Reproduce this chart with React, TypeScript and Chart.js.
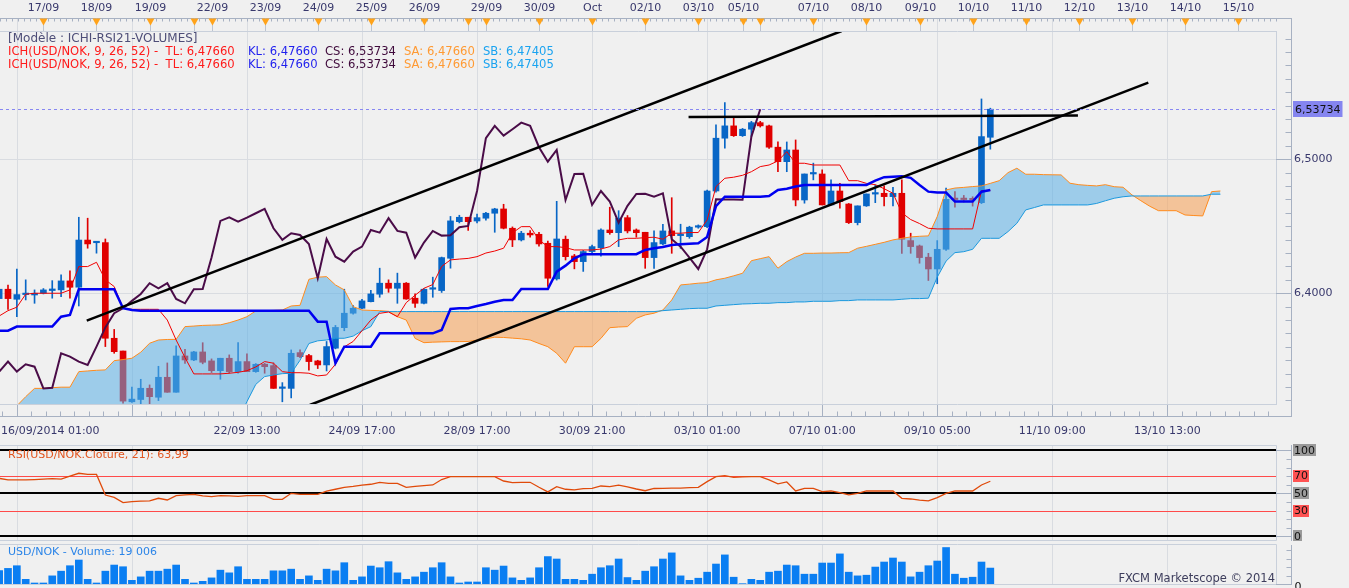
import React, { useEffect, useRef } from "react";
import { Chart, registerables } from "chart.js";

Chart.register(...registerables);

// ---------------- data (index of first candle = -1) ----------------
const FIRST_INDEX = -1;

const OPEN = [
  6.396, 6.403, 6.3955, 6.399, 6.3987, 6.4, 6.402, 6.4025, 6.4092, 6.4045,
  6.4397, 6.4377, 6.4378, 6.3664, 6.3569, 6.319, 6.3207, 6.3291, 6.3224, 6.3373,
  6.3261, 6.3532, 6.3502, 6.3562, 6.3495, 6.3422, 6.3515, 6.3415, 6.349, 6.3415,
  6.347, 6.346, 6.329, 6.329, 6.3557, 6.3535, 6.3495, 6.3465, 6.359, 6.3743,
  6.3851, 6.3888, 6.3937, 6.3993, 6.4075, 6.4037, 6.4075, 6.3963, 6.3925, 6.403,
  6.402, 6.4261, 6.4534, 6.4567, 6.4539, 6.456, 6.4597, 6.4629, 6.4485, 6.4398,
  6.4448, 6.444, 6.4373, 6.4107, 6.4403, 6.4278, 6.4236, 6.4311, 6.434, 6.4472,
  6.4452, 6.4564, 6.4472, 6.4455, 6.4266, 6.4368, 6.4465, 6.443, 6.4422, 6.4493,
  6.4497, 6.4763, 6.5157, 6.5249, 6.5176, 6.5224, 6.5273, 6.5249, 6.509, 6.4982,
  6.5069, 6.4696, 6.489, 6.489, 6.4659, 6.4763, 6.4666, 6.4527, 6.4652, 6.474,
  6.4746, 6.4721, 6.4746, 6.4393, 6.4353, 6.4269, 6.4181, 6.4328, 6.4701, 6.4702,
  6.4699, 6.4676, 6.5164,
];
const HIGH = [
  6.406, 6.406, 6.418, 6.41, 6.4025, 6.4035, 6.4094, 6.4137, 6.4167, 6.4567,
  6.456, 6.438, 6.4405, 6.373, 6.3569, 6.33, 6.3358, 6.3316, 6.3455, 6.348,
  6.3607, 6.3582, 6.3567, 6.3631, 6.351, 6.3515, 6.354, 6.3631, 6.3547, 6.3475,
  6.3477, 6.348, 6.3333, 6.3577, 6.3577, 6.3545, 6.35, 6.364, 6.376, 6.403,
  6.3907, 6.3955, 6.4022, 6.4187, 6.41, 6.415, 6.408, 6.3995, 6.4035, 6.412,
  6.427, 6.4573, 6.4582, 6.4567, 6.459, 6.4604, 6.4634, 6.4664, 6.4495, 6.4462,
  6.4468, 6.4455, 6.439, 6.4686, 6.4427, 6.429, 6.432, 6.436, 6.448, 6.4642,
  6.4616, 6.458, 6.448, 6.4455, 6.4465, 6.4515, 6.4713, 6.4515, 6.45, 6.451,
  6.477, 6.5256, 6.5422, 6.5313, 6.523, 6.5283, 6.5283, 6.5255, 6.5129, 6.5129,
  6.5144, 6.489, 6.4971, 6.4921, 6.4846, 6.4821, 6.467, 6.4652, 6.4741, 6.4808,
  6.4801, 6.479, 6.4846, 6.4448, 6.436, 6.4298, 6.4393, 6.4784, 6.4759, 6.473,
  6.472, 6.545, 6.5381,
];
const LOW = [
  6.393, 6.388, 6.3825, 6.395, 6.3925, 6.3995, 6.3963, 6.3975, 6.3963, 6.3905,
  6.4336, 6.4299, 6.3602, 6.3552, 6.318, 6.3185, 6.3174, 6.3174, 6.3199, 6.3261,
  6.3261, 6.3477, 6.3497, 6.3473, 6.3408, 6.3358, 6.3403, 6.3403, 6.3415, 6.341,
  6.3403, 6.329, 6.319, 6.3219, 6.352, 6.3426, 6.3438, 6.342, 6.3585, 6.372,
  6.3843, 6.3885, 6.3935, 6.397, 6.4007, 6.3925, 6.3955, 6.3895, 6.392, 6.397,
  6.4006, 6.4187, 6.4525, 6.4469, 6.4525, 6.4545, 6.4455, 6.448, 6.4348, 6.439,
  6.4418, 6.4352, 6.405, 6.4098, 6.4248, 6.4182, 6.4163, 6.43, 6.4276, 6.444,
  6.4348, 6.445, 6.4418, 6.4186, 6.4186, 6.436, 6.4298, 6.4334, 6.441, 6.4485,
  6.449, 6.4755, 6.5082, 6.517, 6.517, 6.5171, 6.524, 6.508, 6.4907, 6.4907,
  6.4652, 6.4672, 6.4846, 6.4659, 6.4659, 6.4634, 6.452, 6.451, 6.4648, 6.4676,
  6.4652, 6.4652, 6.4298, 6.4298, 6.4224, 6.4095, 6.4071, 6.432, 6.4642, 6.468,
  6.465, 6.4669, 6.5075,
];
const CLOSE = [
  6.403, 6.396, 6.399, 6.3995, 6.4, 6.4025, 6.4032, 6.4092, 6.4045, 6.4397,
  6.4368, 6.4379, 6.3664, 6.3564, 6.3195, 6.321, 6.3291, 6.3228, 6.3373, 6.3261,
  6.3532, 6.3502, 6.3562, 6.3485, 6.3422, 6.3515, 6.3415, 6.349, 6.3415, 6.347,
  6.3452, 6.329, 6.3295, 6.3552, 6.3527, 6.349, 6.3465, 6.3602, 6.3745, 6.3851,
  6.3888, 6.3943, 6.3995, 6.4075, 6.4037, 6.4075, 6.3957, 6.3925, 6.403, 6.4032,
  6.4266, 6.454, 6.4567, 6.4534, 6.4564, 6.4597, 6.4629, 6.4485, 6.4398, 6.4448,
  6.4435, 6.4368, 6.4112, 6.4405, 6.4273, 6.4236, 6.4311, 6.4348, 6.4472, 6.4452,
  6.456, 6.4465, 6.4452, 6.4266, 6.4378, 6.4465, 6.443, 6.4432, 6.4493, 6.4502,
  6.4763, 6.5157, 6.5249, 6.5176, 6.5224, 6.5273, 6.5249, 6.509, 6.4982, 6.5069,
  6.4696, 6.489, 6.4892, 6.4659, 6.4763, 6.4684, 6.4527, 6.4652, 6.4741, 6.4742,
  6.4721, 6.4746, 6.4403, 6.4348, 6.4266, 6.4181, 6.4328, 6.4701, 6.4699, 6.4699,
  6.4697, 6.5169, 6.53734,
];
const VOLUME = [
  16000, 18600, 21800, 5600, 1200, 1200, 9700, 15300, 21800, 28600,
  5600, 1200, 15300, 22600, 20600, 4400, 8500, 15300, 15300, 17700,
  22600, 5600, 1200, 3200, 7300, 16500, 13300, 20600, 5600, 5600,
  5600, 15700, 15700, 17700, 5600, 9700, 4400, 17700, 15700, 25400,
  4400, 8500, 21400, 19400, 26600, 13300, 5600, 8500, 14100, 19400,
  25400, 8500, 1200, 2400, 2400, 19400, 16500, 21400, 7300, 4400,
  7300, 19400, 32700, 29800, 5600, 5600, 4400, 11700, 19400, 21800,
  29800, 7700, 4400, 15300, 20600, 29800, 37100, 9700, 4400, 6900,
  14100, 23800, 34700, 8100, 400, 5600, 4400, 14100, 15300, 22600,
  21800, 11700, 11700, 25000, 25000, 35900, 14100, 9700, 10500, 20200,
  26200, 31000, 26200, 8500, 14100, 21800, 27400, 43500, 11700, 6900,
  8100, 26200, 19006,
];
const RSI = [
  67.4, 65.5, 65.5, 65.5, 66, 66.5, 67, 66.5, 70, 73.3,
  72, 72, 48, 45.3, 39.1, 40.3, 40.8, 41.1, 44.2, 42.2,
  47.3, 48.1, 48.8, 47, 46.1, 47.3, 47, 46.5, 47.3, 47.3,
  47.3, 43, 43, 50, 48.8, 48.8, 48.8, 52.5, 54.7, 57,
  58, 59.5, 60.5, 62.8, 61.6, 61.6, 57, 58, 59, 59.7,
  66, 69.4, 69.4, 69.4, 69.4, 69.4, 69.4, 64.3, 62.4, 62.6,
  62.8, 57, 51.6, 57.8, 54.7, 53.9, 55.4, 55.8, 58.5, 57.8,
  59.5, 57.5, 55, 53, 55.6, 55.8, 56, 56, 56.5, 57,
  63.6, 69.4, 70.5, 68.6, 69, 69.4, 69.4, 65.5, 60.9, 63.2,
  52.7, 55.8, 55.8, 51.9, 52.7, 50.8, 48.1, 50, 52.7, 52.7,
  52.7, 52.7, 44.2, 43.4, 42, 41.1, 45, 50, 52.7, 52.7,
  52.7, 59.7, 63.99,
];
const TENKAN = [
  6.383, 6.387, 6.3896, 6.3993, 6.4, 6.4, 6.4, 6.4, 6.4025, 6.4199,
  6.4199, 6.4231, 6.41, 6.405, 6.3888, 6.388, 6.388, 6.388, 6.388, 6.38,
  6.3651, 6.352, 6.3398, 6.3398, 6.3398, 6.3398, 6.3403, 6.341, 6.3422, 6.345,
  6.349, 6.3478, 6.3415, 6.3407, 6.3407, 6.3403, 6.3383, 6.339, 6.347, 6.36,
  6.364, 6.372, 6.38, 6.385, 6.386, 6.3825, 6.393, 6.3985, 6.4037, 6.4065,
  6.42, 6.4249, 6.4255, 6.426, 6.4273, 6.43, 6.4315, 6.4336, 6.445, 6.4497,
  6.4497, 6.4398, 6.4348, 6.4348, 6.434, 6.4323, 6.4323, 6.4323, 6.433, 6.4348,
  6.4398, 6.441, 6.441, 6.4415, 6.4418, 6.4403, 6.4448, 6.4448, 6.4453, 6.4453,
  6.4547, 6.4796, 6.4858, 6.4866, 6.488, 6.4907, 6.4945, 6.4957, 6.4987, 6.5057,
  6.497, 6.497, 6.4957, 6.4957, 6.4957, 6.4957, 6.484, 6.484, 6.482, 6.481,
  6.478, 6.4746, 6.46, 6.455, 6.452, 6.4485, 6.448, 6.448, 6.448, 6.448,
  6.448, 6.4766, 6.4766,
];
const KIJUN = [
  6.3721, 6.3721, 6.3751, 6.3751, 6.3751, 6.3751, 6.3751, 6.3825, 6.3838, 6.403,
  6.403, 6.403, 6.403, 6.403, 6.3888, 6.3875, 6.387, 6.387, 6.387, 6.387,
  6.387, 6.387, 6.387, 6.387, 6.387, 6.387, 6.387, 6.387, 6.387, 6.387,
  6.387, 6.387, 6.387, 6.387, 6.387, 6.387, 6.3788, 6.3788, 6.3478, 6.3601,
  6.3601, 6.3601, 6.3601, 6.3701, 6.3701, 6.3701, 6.3701, 6.3701, 6.3701, 6.3701,
  6.3726, 6.3883, 6.3888, 6.3888, 6.3905, 6.392, 6.3937, 6.395, 6.395, 6.4032,
  6.4032, 6.4032, 6.4032, 6.4161, 6.4206, 6.4261, 6.4291, 6.4291, 6.4291, 6.4291,
  6.4291, 6.4291, 6.4291, 6.4323, 6.4336, 6.4345, 6.436, 6.4365, 6.437, 6.4373,
  6.442, 6.465, 6.4721, 6.4721, 6.4721, 6.4721, 6.4721, 6.4726, 6.4771, 6.478,
  6.4796, 6.4808, 6.4808, 6.4808, 6.4808, 6.4808, 6.4808, 6.4808, 6.4808, 6.484,
  6.4866, 6.487, 6.4873, 6.4861, 6.4808, 6.4758, 6.4751, 6.4751, 6.4684, 6.4684,
  6.4684, 6.4758, 6.4771,
];
// Senkou spans, already at their plotted (26-forward) positions, index -1 .. 137
const SENKOU_A = [
  6.3, 6.308, 6.316, 6.3228, 6.329, 6.329, 6.3295, 6.3299, 6.3299, 6.3415,
  6.342, 6.3425, 6.3428, 6.3497, 6.3505, 6.3515, 6.356, 6.3627, 6.3651, 6.3655,
  6.3656, 6.3751, 6.3755, 6.376, 6.3762, 6.3764, 6.378, 6.38, 6.3825, 6.3868,
  6.387, 6.3872, 6.3875, 6.3905, 6.391, 6.4104, 6.412, 6.4124, 6.4062, 6.4025,
  6.39, 6.3875, 6.3872, 6.387, 6.3865, 6.3825, 6.38, 6.3663, 6.3631, 6.3635,
  6.3637, 6.3639, 6.3639, 6.364, 6.365, 6.366, 6.3672, 6.367, 6.3665, 6.366,
  6.3651, 6.3625, 6.3601, 6.3552, 6.3478, 6.3601, 6.3601, 6.3601, 6.3663, 6.3743,
  6.3748, 6.3751, 6.3813, 6.3838, 6.3851, 6.3875, 6.395, 6.4062, 6.4068, 6.4075,
  6.4079, 6.41, 6.4112, 6.413, 6.4149, 6.4243, 6.4258, 6.4273, 6.4187, 6.4236,
  6.427, 6.4298, 6.4298, 6.43, 6.43, 6.4302, 6.4303, 6.4336, 6.435, 6.4365,
  6.438, 6.4398, 6.441, 6.442, 6.4425, 6.4428, 6.4572, 6.4771, 6.4785, 6.479,
  6.4796, 6.4801, 6.482, 6.484, 6.49, 6.4933, 6.4888, 6.4888, 6.4885, 6.4884,
  6.4883, 6.4821, 6.481, 6.4805, 6.4801, 6.481, 6.4795, 6.4791, 6.4734, 6.4691,
  6.465, 6.4616, 6.4616, 6.4616, 6.4584, 6.458, 6.4577, 6.4758, 6.4763,
];
const SENKOU_B = [
  6.3, 6.3, 6.3, 6.3, 6.3, 6.3, 6.3, 6.3, 6.3, 6.3,
  6.3, 6.3, 6.3, 6.3, 6.3, 6.3, 6.3, 6.3, 6.3, 6.3,
  6.3, 6.3, 6.3, 6.3, 6.3, 6.3, 6.3, 6.305, 6.3191, 6.332,
  6.3378, 6.339, 6.34, 6.3403, 6.35, 6.3625, 6.3645, 6.3651, 6.3664, 6.3664,
  6.368, 6.372, 6.3751, 6.3863, 6.3863, 6.3863, 6.3863, 6.3863, 6.3863, 6.3863,
  6.3863, 6.3863, 6.3863, 6.3863, 6.3863, 6.3863, 6.3863, 6.3863, 6.3863, 6.3863,
  6.3863, 6.3863, 6.3863, 6.3863, 6.3863, 6.3863, 6.3863, 6.3863, 6.3863, 6.3863,
  6.3863, 6.3863, 6.3863, 6.3863, 6.3863, 6.387, 6.3875, 6.388, 6.3885, 6.3888,
  6.3888, 6.3905, 6.391, 6.3915, 6.392, 6.3922, 6.3925, 6.3925, 6.393, 6.393,
  6.3935, 6.3935, 6.394, 6.394, 6.394, 6.3945, 6.3945, 6.395, 6.395, 6.395,
  6.395, 6.395, 6.3955, 6.396, 6.396, 6.3963, 6.412, 6.424, 6.4303, 6.431,
  6.4328, 6.441, 6.441, 6.441, 6.446, 6.4522, 6.4622, 6.464, 6.4659, 6.4659,
  6.4659, 6.4659, 6.4659, 6.4659, 6.467, 6.469, 6.4709, 6.472, 6.4726, 6.4726,
  6.4726, 6.4726, 6.4726, 6.4726, 6.4726, 6.4726, 6.4726, 6.4739, 6.4739,
];
const CHIKOU_SHIFT = 26;

const GRID_IDX = [1, 14, 27, 40, 53, 66, 79, 92, 105, 118, 131];
const TOP_TICK_IDX = [4, 10, 16, 21, 23, 29, 35, 41, 47, 52, 54, 60, 66, 72, 78, 83, 85, 91, 97, 103, 109, 115, 121, 127, 133, 139];
const TOP_TICK_LABELS = ["17/09", "18/09", "19/09", "", "22/09", "23/09", "24/09", "25/09", "26/09", "", "29/09", "30/09", "Oct", "02/10", "03/10", "05/10", "", "07/10", "08/10", "09/10", "10/10", "11/10", "12/10", "13/10", "14/10", "15/10"];
const BOTTOM_TICK_IDX = [1, 27, 40, 53, 66, 79, 92, 105, 118, 131];
const BOTTOM_TICK_LABELS = ["16/09/2014 01:00", "22/09 13:00", "24/09 17:00", "28/09 17:00", "30/09 21:00", "03/10 01:00", "07/10 01:00", "09/10 05:00", "11/10 09:00", "13/10 13:00"];
const PRICE_TICKS = [6.4, 6.5];
const RSI_LEVELS = [100, 70, 50, 30, 0];
const RSI_BANDS = [70, 30];
// user-drawn trend lines: [x1, price1, x2, price2]
const TREND_LINES = [
  [8.9, 6.3796, 94.2, 6.5957],
  [34.1, 6.3166, 128.85, 6.5572],
  [76.9, 6.5316, 120.9, 6.5327],
];
const LEGEND_TITLE = "[Modèle : ICHI-RSI21-VOLUMES]";
const ICH_LABELS = ["ICH(USD/NOK, 9, 26, 52) -  TL: 6,47660", "KL: 6,47660", "CS: 6,53734", "SA: 6,47660", "SB: 6,47405"];
const ICH_LEGEND_LINES = 2;
const COPYRIGHT = "FXCM Marketscope © 2014";

// ---------------- view ranges / styles ----------------
const X_MIN = -0.904;
const X_MAX = 143.28;
const PRICE_MIN = 6.3166;
const PRICE_MAX = 6.5957;
const RSI_MIN = -4.3;
const RSI_MAX = 105;
const VOL_MAX = 46500;

const BG = "#f0f0f0";
const FONT = '"DejaVu Sans", sans-serif';
const GRID_COLOR = "#d9dce1";
const BORDER_COLOR = "#c9d0db";
const AXIS_COLOR = "#a7b1c2";
const TEXT_COLOR = "#38386c";
const UP = "#0866c6";
const DOWN = "#e00000";
const ICH_COLORS = ["#ff1a1a", "#1f1fee", "#3f0a3b", "#ff9a33", "#1aa3f0"];
const ICH_X = [8, 248, 325, 404, 483];
const AXIS_GAP = 15;
const Y_AXIS_W = 73;

const fmt = (v: number, d: number) => v.toFixed(d).replace(".", ",");
const xOf = (i: number) => FIRST_INDEX + i;

function seg(ctx: any, x1: number, y1: number, x2: number, y2: number) {
  ctx.beginPath();
  ctx.moveTo(x1, y1);
  ctx.lineTo(x2, y2);
  ctx.stroke();
}

function vGrid(chart: any, top: number) {
  const { ctx, chartArea: a } = chart;
  const xs = chart.scales.x;
  ctx.save();
  ctx.strokeStyle = GRID_COLOR;
  ctx.lineWidth = 1;
  GRID_IDX.forEach((g) => {
    const px = Math.round(xs.getPixelForValue(g)) + 0.5;
    seg(ctx, px, top, px, a.bottom);
  });
  ctx.restore();
}

function panelFrame(chart: any, rightTickStep: number, majorEvery: number[], yTop: number, yBot: number) {
  const { ctx, chartArea: a } = chart;
  const ys = chart.scales.y;
  const ax = a.right + AXIS_GAP + 0.5;
  ctx.save();
  ctx.strokeStyle = BORDER_COLOR;
  ctx.lineWidth = 1;
  seg(ctx, 0, a.top - 0.5, a.right + 0.5, a.top - 0.5);
  seg(ctx, a.right + 0.5, a.top - 0.5, a.right + 0.5, a.bottom + 0.5);
  seg(ctx, 0, a.bottom + 0.5, a.right + 0.5, a.bottom + 0.5);
  ctx.strokeStyle = AXIS_COLOR;
  seg(ctx, ax, yTop, ax, yBot);
  for (let v = 0; v <= ys.max; v += rightTickStep) {
    const py = Math.round(ys.getPixelForValue(v)) + 0.5;
    if (py < a.top - 1 || py > a.bottom + 1) continue;
    seg(ctx, majorEvery.includes(v) ? a.right : ax - 5, py, ax, py);
  }
  ctx.restore();
}

const candleColors = OPEN.map((o, i) => (CLOSE[i] >= o ? UP : DOWN));

// ---------------- main chart ----------------
const mainPlugin = {
  id: "mainDecor",
  beforeDatasetsDraw(chart: any) {
    vGrid(chart, 19);
  },
  afterDatasetsDraw(chart: any) {
    const { ctx, chartArea: a } = chart;
    const py = Math.round(chart.scales.y.getPixelForValue(CLOSE[CLOSE.length - 1])) + 0.5;
    ctx.save();
    ctx.strokeStyle = "#8787f2";
    ctx.lineWidth = 1;
    ctx.setLineDash([3, 3]);
    seg(ctx, a.left, py, a.right, py);
    ctx.restore();
  },
  afterDraw(chart: any) {
    const { ctx, chartArea: a } = chart;
    const xs = chart.scales.x;
    const ys = chart.scales.y;
    const ax = a.right + AXIS_GAP + 0.5;
    ctx.save();
    ctx.lineWidth = 1;
    // plot frame
    ctx.strokeStyle = BORDER_COLOR;
    seg(ctx, 0, a.top + 0.5, a.right + 0.5, a.top + 0.5);
    seg(ctx, a.right + 0.5, a.top, a.right + 0.5, a.bottom);
    seg(ctx, 0, a.bottom - 0.5, a.right + 0.5, a.bottom - 0.5);

    // price axis
    ctx.strokeStyle = AXIS_COLOR;
    seg(ctx, ax, 18, ax, 417);
    for (let k = Math.ceil(PRICE_MIN * 100); k <= Math.floor(PRICE_MAX * 100); k++) {
      const py = Math.round(ys.getPixelForValue(k / 100)) + 0.5;
      seg(ctx, k % 10 === 0 ? a.right : ax - 6, py, ax, py);
    }

    // top date band
    const topY = 18.5;
    seg(ctx, 0, topY, ax, topY);
    for (let v = X_MIN; v <= X_MAX; v += 0.68) {
      const px = Math.round(xs.getPixelForValue(v)) + 0.5;
      seg(ctx, px, topY, px, topY + 3);
    }
    ctx.font = `11px ${FONT}`;
    ctx.textAlign = "center";
    ctx.textBaseline = "middle";
    TOP_TICK_IDX.forEach((v, i) => {
      const px = Math.round(xs.getPixelForValue(v)) + 0.5;
      ctx.strokeStyle = "#bcc4d0";
      seg(ctx, px, topY, px, a.top);
      ctx.fillStyle = "#ffa31a";
      ctx.beginPath();
      ctx.moveTo(px - 4, topY);
      ctx.lineTo(px + 4, topY);
      ctx.lineTo(px, topY + 7);
      ctx.closePath();
      ctx.fill();
      if (TOP_TICK_LABELS[i]) {
        ctx.fillStyle = TEXT_COLOR;
        ctx.fillText(TOP_TICK_LABELS[i], px, 8);
      }
    });

    // bottom time axis
    const botY = 416.5;
    ctx.strokeStyle = AXIS_COLOR;
    seg(ctx, 0, botY, ax, botY);
    for (let v = GRID_IDX[0] - 13 / 8; v <= X_MAX; v += 13 / 8) {
      if (v < X_MIN) continue;
      const px = Math.round(xs.getPixelForValue(v)) + 0.5;
      seg(ctx, px, botY - 5, px, botY);
    }
    GRID_IDX.forEach((g) => {
      const px = Math.round(xs.getPixelForValue(g)) + 0.5;
      seg(ctx, px, a.bottom, px, botY);
    });
    ctx.fillStyle = TEXT_COLOR;
    BOTTOM_TICK_IDX.forEach((v, i) => {
      const t = BOTTOM_TICK_LABELS[i];
      const w = ctx.measureText(t).width;
      let cx = xs.getPixelForValue(v);
      if (cx - w / 2 < 1) cx = w / 2 + 1;
      ctx.fillText(t, cx, 431);
    });

    // legend
    ctx.font = `12px ${FONT}`;
    ctx.textAlign = "left";
    ctx.fillStyle = "#4e4e78";
    ctx.fillText(LEGEND_TITLE, 8, 38.5);
    ctx.font = `11.6px ${FONT}`;
    for (let r = 0; r < ICH_LEGEND_LINES; r++) {
      ICH_LABELS.forEach((t, i) => {
        ctx.fillStyle = ICH_COLORS[i];
        ctx.fillText(t, ICH_X[i], 52 + r * 12.5);
      });
    }

    // last price marker
    ctx.font = `11px ${FONT}`;
    const lastClose = CLOSE[CLOSE.length - 1];
    const py = ys.getPixelForValue(lastClose);
    const label = fmt(lastClose, 5);
    const w = ctx.measureText(label).width;
    ctx.fillStyle = "#8585f0";
    ctx.fillRect(ax + 1.5, Math.round(py) - 8, w + 4, 16);
    ctx.fillStyle = "#111";
    ctx.fillText(label, ax + 3.5, py + 0.5);
    ctx.restore();
  },
};

function mainConfig(): any {
  const idx = OPEN.map((_, i) => i);
  const line = (arr: number[], color: string, width: number, order: number, extra: any = {}) => ({
    type: "line",
    data: arr.map((v, i) => ({ x: xOf(i), y: v })),
    borderColor: color,
    borderWidth: width,
    pointRadius: 0,
    pointHitRadius: 0,
    tension: 0,
    fill: false,
    order,
    ...extra,
  });
  const datasets: any[] = [
    {
      type: "bar",
      data: idx.map((i) => ({ x: xOf(i), y: [LOW[i], HIGH[i]] })),
      backgroundColor: candleColors,
      barThickness: 1,
      grouped: false,
      minBarLength: 1,
      order: 10,
    },
    {
      type: "bar",
      data: idx.map((i) => ({ x: xOf(i), y: [OPEN[i], CLOSE[i]] })),
      backgroundColor: candleColors,
      barThickness: 6,
      grouped: false,
      minBarLength: 1.5,
      order: 9,
    },
    line(SENKOU_A, "#ff8a1c", 1, 8, {
      fill: { target: "+1", above: "rgba(90,175,230,0.55)", below: "rgba(245,165,95,0.6)" },
    }),
    line(SENKOU_B, "#1798e0", 1, 7),
    line(CLOSE.slice(CHIKOU_SHIFT), "#4a0c48", 2, 6),
    line(TENKAN, "#f00000", 1, 5),
    line(KIJUN, "#0000f0", 2.5, 4),
    ...TREND_LINES.map(([x1, y1, x2, y2]) => ({
      type: "line",
      data: [
        { x: x1, y: y1 },
        { x: x2, y: y2 },
      ],
      borderColor: "#000",
      borderWidth: 2.5,
      pointRadius: 0,
      fill: false,
      order: 3,
    })),
  ];
  return {
    type: "bar",
    data: { datasets },
    options: {
      responsive: false,
      animation: false,
      events: [],
      layout: { padding: { top: 31, bottom: 35, left: 0, right: 0 } },
      plugins: { legend: { display: false }, tooltip: { enabled: false } },
      scales: {
        x: { type: "linear", min: X_MIN, max: X_MAX, offset: false, display: false },
        y: {
          type: "linear",
          position: "right",
          min: PRICE_MIN,
          max: PRICE_MAX,
          beginAtZero: false,
          afterFit: (s: any) => {
            s.width = Y_AXIS_W;
          },
          afterBuildTicks: (s: any) => {
            s.ticks = PRICE_TICKS.map((v) => ({ value: v }));
          },
          grid: { color: GRID_COLOR, drawTicks: false },
          border: { display: false },
          ticks: {
            padding: AXIS_GAP + 3,
            color: TEXT_COLOR,
            font: { size: 11, family: FONT },
            callback: (v: any) => fmt(Number(v), 4),
          },
        },
      },
    },
    plugins: [mainPlugin],
  };
}

// ---------------- RSI chart ----------------
const rsiPlugin = {
  id: "rsiDecor",
  beforeDatasetsDraw(chart: any) {
    vGrid(chart, chart.chartArea.top);
    const { ctx, chartArea: a } = chart;
    const ys = chart.scales.y;
    ctx.save();
    RSI_LEVELS.forEach((l) => {
      const band = RSI_BANDS.includes(l);
      const py = Math.round(ys.getPixelForValue(l)) + (band ? 0.5 : 0);
      ctx.strokeStyle = band ? "#ff4a4a" : "#000";
      ctx.lineWidth = band ? 1.2 : 2;
      seg(ctx, a.left, py, a.right, py);
    });
    ctx.restore();
  },
  afterDraw(chart: any) {
    const { ctx, chartArea: a } = chart;
    const ys = chart.scales.y;
    panelFrame(chart, 10, [0, 50, 100], a.top - 1, a.bottom + 1);
    const ax = a.right + AXIS_GAP + 0.5;
    ctx.save();
    ctx.font = `11px ${FONT}`;
    ctx.textAlign = "left";
    ctx.textBaseline = "middle";
    RSI_LEVELS.forEach((l) => {
      const band = RSI_BANDS.includes(l);
      const py = ys.getPixelForValue(l);
      const t = String(l);
      const w = ctx.measureText(t).width;
      ctx.fillStyle = band ? "#ff5252" : "#9a9a9a";
      ctx.fillRect(ax + 1.5, Math.round(py) - 6, w + 2, 12);
      ctx.fillStyle = "#111";
      ctx.fillText(t, ax + 2.5, py + 0.5);
    });
    ctx.fillStyle = "#e2541e";
    ctx.fillText(`RSI(USD/NOK.Cloture, 21): ${fmt(RSI[RSI.length - 1], 2)}`, 8, a.top + 9);
    ctx.restore();
  },
};

function rsiConfig(): any {
  return {
    type: "line",
    data: {
      datasets: [
        {
          data: RSI.map((v, i) => ({ x: xOf(i), y: v })),
          borderColor: "#e04a0a",
          borderWidth: 1.3,
          pointRadius: 0,
          tension: 0,
          fill: false,
        },
      ],
    },
    options: {
      responsive: false,
      animation: false,
      events: [],
      layout: { padding: { top: 6, bottom: 1, left: 0, right: 0 } },
      plugins: { legend: { display: false }, tooltip: { enabled: false } },
      scales: {
        x: { type: "linear", min: X_MIN, max: X_MAX, offset: false, display: false },
        y: {
          type: "linear",
          position: "right",
          min: RSI_MIN,
          max: RSI_MAX,
          afterFit: (s: any) => {
            s.width = Y_AXIS_W;
          },
          grid: { display: false },
          border: { display: false },
          ticks: { display: false },
        },
      },
    },
    plugins: [rsiPlugin],
  };
}

// ---------------- Volume chart ----------------
const volPlugin = {
  id: "volDecor",
  beforeDatasetsDraw(chart: any) {
    vGrid(chart, chart.chartArea.top);
  },
  afterDraw(chart: any) {
    const { ctx, chartArea: a } = chart;
    panelFrame(chart, 10000, [0], a.top, a.bottom + 1);
    const ax = a.right + AXIS_GAP + 0.5;
    ctx.save();
    ctx.font = `11px ${FONT}`;
    ctx.textBaseline = "middle";
    ctx.textAlign = "left";
    ctx.fillStyle = "#111";
    ctx.fillText("0", ax + 3, a.bottom + 3);
    ctx.fillStyle = "#2a84e8";
    const last = VOLUME[VOLUME.length - 1];
    const volText = String(last).replace(/\B(?=(\d{3})+(?!\d))/g, " ");
    ctx.fillText(`USD/NOK - Volume: ${volText}`, 8, a.top + 7);
    ctx.textAlign = "right";
    ctx.fillStyle = "#3d3d5c";
    ctx.font = `11.5px ${FONT}`;
    ctx.fillText(COPYRIGHT, a.right - 1, a.bottom - 5);
    ctx.restore();
  },
};

function volConfig(): any {
  return {
    type: "bar",
    data: {
      datasets: [
        {
          data: VOLUME.map((v, i) => ({ x: xOf(i), y: v })),
          backgroundColor: "#0a7ef2",
          barThickness: 7,
          grouped: false,
        },
      ],
    },
    options: {
      responsive: false,
      animation: false,
      events: [],
      layout: { padding: { top: 4, bottom: 4, left: 0, right: 0 } },
      plugins: { legend: { display: false }, tooltip: { enabled: false } },
      scales: {
        x: { type: "linear", min: X_MIN, max: X_MAX, offset: false, display: false },
        y: {
          type: "linear",
          position: "right",
          min: 0,
          max: VOL_MAX,
          afterFit: (s: any) => {
            s.width = Y_AXIS_W;
          },
          grid: { display: false },
          border: { display: false },
          ticks: { display: false },
        },
      },
    },
    plugins: [volPlugin],
  };
}

export default function App() {
  const mainRef = useRef<HTMLCanvasElement>(null);
  const rsiRef = useRef<HTMLCanvasElement>(null);
  const volRef = useRef<HTMLCanvasElement>(null);

  useEffect(() => {
    document.body.style.margin = "0";
    document.body.style.background = BG;
    Chart.defaults.font.family = FONT;
    Chart.defaults.font.size = 11;
    const charts = [
      new Chart(mainRef.current as HTMLCanvasElement, mainConfig()),
      new Chart(rsiRef.current as HTMLCanvasElement, rsiConfig()),
      new Chart(volRef.current as HTMLCanvasElement, volConfig()),
    ];
    return () => charts.forEach((c) => c.destroy());
  }, []);

  const cs = (top: number): React.CSSProperties => ({ position: "absolute", left: 0, top, display: "block" });
  return (
    <div style={{ position: "relative", width: 1349, height: 588, background: BG, overflow: "hidden" }}>
      <canvas ref={mainRef} width={1349} height={440} style={cs(0)} />
      <canvas ref={rsiRef} width={1349} height={101} style={cs(440)} />
      <canvas ref={volRef} width={1349} height={47} style={cs(541)} />
    </div>
  );
}
